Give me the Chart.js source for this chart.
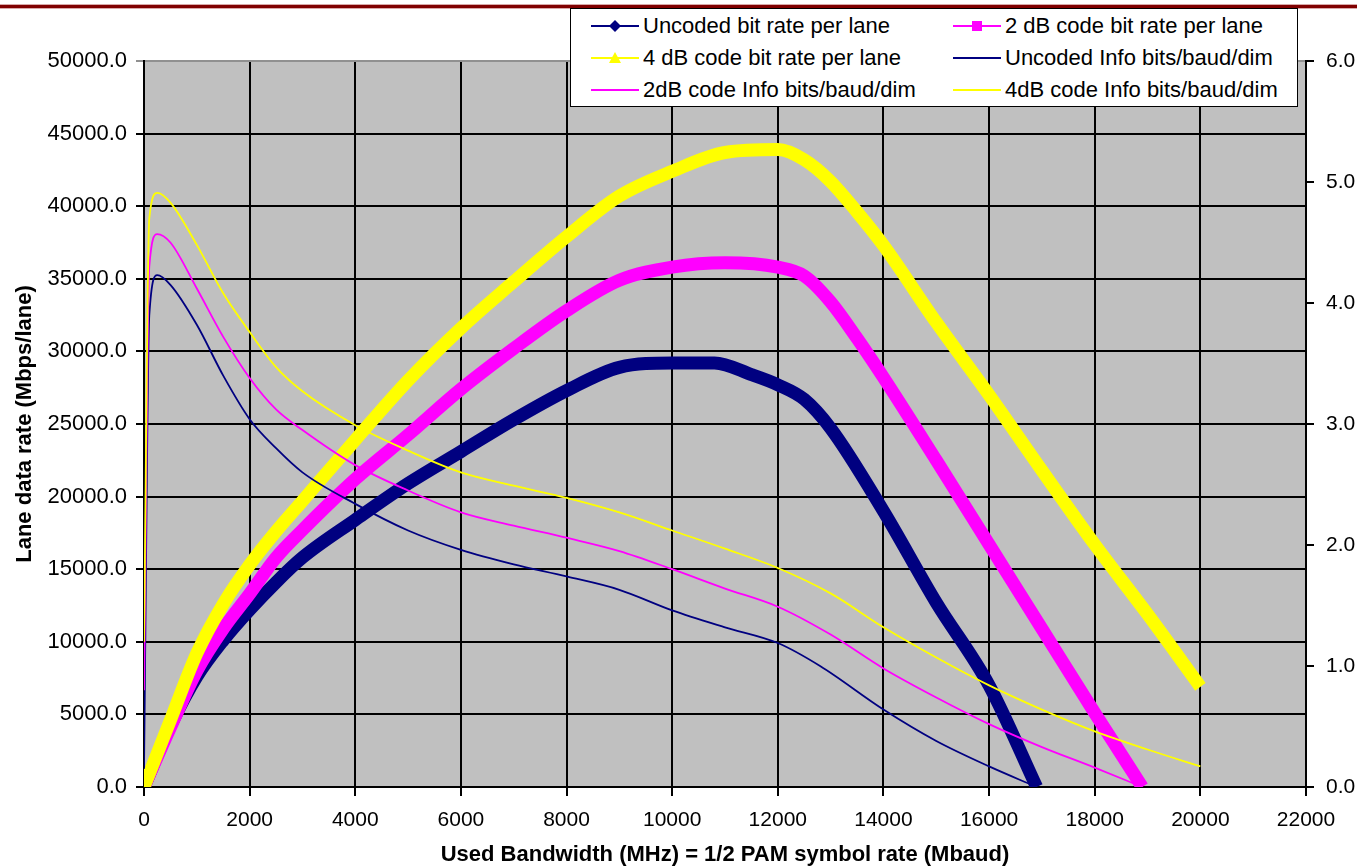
<!DOCTYPE html>
<html>
<head>
<meta charset="utf-8">
<script src="https://cdn.jsdelivr.net/npm/chart.js@4.4.1/dist/chart.umd.min.js"></script>
<style>
  html, body { margin: 0; padding: 0; background: #fff; overflow: hidden; }
  #wrap { position: relative; width: 1357px; height: 868px; font-family: "Liberation Sans", Arial, sans-serif; }
  #lineChart { display: block; }
  #redline { position: absolute; left: 0; top: 4px; width: 1357px; height: 3px; background: #800000;
             border-top: 1px solid #d8a8a8; border-bottom: 1px solid #d8a8a8; }
  #legend { position: absolute; left: 570px; top: 8px; width: 726px; height: 97px; background: #fff;
            border: 1.5px solid #000; }
  .item { position: absolute; display: flex; align-items: center; font-size: 22px; color: #000; white-space: nowrap; height: 24px; }
  .item svg { margin-right: 4px; }
</style>
</head>
<body>
<div id="wrap">
  <canvas id="lineChart" width="1357" height="868"></canvas>
  <div id="redline"></div>
  <div id="legend"></div>
</div>
<script>
// bit rate per lane (left axis, Mbps/lane)
const uncodedRateX = [0, 500, 1000, 1500, 2000, 2500, 3000, 4000, 5000, 6000, 7000, 8000, 9000, 10000, 10800, 11500, 12000, 12500, 13000, 14000, 15000, 16000, 16900];
const uncodedRate  = [0, 4200, 7600, 10100, 12200, 14100, 15800, 18400, 20900, 23100, 25300, 27300, 28900, 29200, 29200, 28400, 27700, 26700, 24700, 19000, 12700, 7000, 0];

const code2RateX = [0, 500, 1000, 1500, 2000, 2500, 3000, 4000, 5000, 6000, 7000, 8000, 9000, 10000, 11000, 12000, 12500, 13000, 13500, 14000, 15000, 16000, 17000, 18000, 18900];
const code2Rate  = [0, 4100, 8000, 10900, 13300, 15800, 17700, 21200, 24250, 27400, 30200, 32800, 34900, 35800, 36100, 35800, 35200, 33400, 30900, 28200, 22500, 16700, 10900, 5100, 0];

const code4RateX = [0, 500, 1000, 1500, 2000, 2500, 3000, 4000, 5000, 6000, 7000, 8000, 9000, 10000, 11000, 12000, 12500, 13000, 13500, 14000, 15000, 16000, 17000, 18000, 19000, 20000];
const code4Rate  = [0, 4600, 9200, 12600, 15300, 17600, 19700, 23900, 28000, 31600, 34800, 37900, 40700, 42400, 43700, 43900, 43200, 41700, 39600, 37300, 32000, 27000, 21800, 16700, 11900, 6900];

// info bits/baud/dim (right axis)
const uncodedInfoX = [0, 100, 250, 500, 1000, 1500, 2000, 2500, 3000, 4000, 5000, 6000, 7000, 8000, 9000, 10000, 11000, 12000, 12800, 14000, 15000, 16000, 16900];
const uncodedInfo  = [0.15, 3.9, 4.23, 4.15, 3.82, 3.40, 3.04, 2.80, 2.60, 2.34, 2.12, 1.96, 1.84, 1.74, 1.63, 1.46, 1.32, 1.19, 1.0, 0.64, 0.38, 0.17, 0];

const code2InfoX = [0, 100, 250, 500, 1000, 1500, 2000, 2500, 3000, 4000, 5000, 6000, 7000, 8000, 9000, 10000, 11000, 12000, 13000, 14000, 15000, 16000, 17000, 18000, 18900];
const code2Info  = [0.8, 4.3, 4.57, 4.5, 4.12, 3.72, 3.38, 3.12, 2.95, 2.66, 2.45, 2.27, 2.16, 2.06, 1.95, 1.80, 1.64, 1.49, 1.26, 0.98, 0.74, 0.52, 0.33, 0.16, 0];

const code4InfoX = [0, 100, 250, 500, 1000, 1500, 2000, 2500, 3000, 4000, 5000, 6000, 7000, 8000, 9000, 10000, 11000, 12000, 13000, 14000, 15000, 16000, 17000, 18000, 19000, 20000];
const code4Info  = [1.2, 4.7, 4.91, 4.83, 4.48, 4.08, 3.76, 3.47, 3.27, 2.99, 2.78, 2.60, 2.49, 2.39, 2.27, 2.12, 1.97, 1.81, 1.60, 1.32, 1.07, 0.84, 0.64, 0.46, 0.31, 0.17];

const labels = [
  "Uncoded bit rate per lane", "2 dB code bit rate per lane",
  "4 dB code bit rate per lane", "Uncoded Info bits/baud/dim",
  "2dB code Info bits/baud/dim", "4dB code Info bits/baud/dim"
];

const NAVY = "#000080", MAGENTA = "#FF00FF", YELLOW = "#FFFF00";
const FONT = "'Liberation Sans', Arial, sans-serif";

function pts(xs, ys) {
  return xs.map((x, i) => ({ x: x, y: ys[i] }));
}

function thick(label, xs, ys, color, order) {
  return { label, data: pts(xs, ys), yAxisID: "y", borderColor: color, backgroundColor: color,
    borderWidth: 13, pointRadius: 0, cubicInterpolationMode: "monotone", order };
}
function thin(label, xs, ys, color, order) {
  return { label, data: pts(xs, ys), yAxisID: "y2", borderColor: color, backgroundColor: color,
    borderWidth: 1.8, pointRadius: 0, cubicInterpolationMode: "monotone", order };
}

const plotBg = {
  id: "plotBg",
  beforeDraw(chart) {
    const { ctx, chartArea: a } = chart;
    ctx.save();
    ctx.fillStyle = "#fff";
    ctx.fillRect(0, 0, chart.width, chart.height);
    ctx.fillStyle = "#C0C0C0";
    ctx.fillRect(a.left, a.top, a.right - a.left, a.bottom - a.top);
    ctx.restore();
  }
};

const ctx = document.getElementById("lineChart").getContext("2d");
new Chart(ctx, {
  type: "line",
  data: {
    datasets: [
      thick(labels[0], uncodedRateX, uncodedRate, NAVY, 6),
      thick(labels[1], code2RateX, code2Rate, MAGENTA, 5),
      thick(labels[2], code4RateX, code4Rate, YELLOW, 4),
      thin(labels[3], uncodedInfoX, uncodedInfo, NAVY, 3),
      thin(labels[4], code2InfoX, code2Info, MAGENTA, 2),
      thin(labels[5], code4InfoX, code4Info, YELLOW, 1),
    ],
  },
  options: {
    responsive: false,
    animation: false,
    devicePixelRatio: 1,
    layout: { padding: { top: 61, left: 0, right: 0, bottom: 0 } },
    plugins: { legend: { display: false }, tooltip: { enabled: false } },
    scales: {
      x: {
        type: "linear", min: 0, max: 22000,
        afterFit: (s) => { s.height = 81; },
        ticks: { stepSize: 2000, color: "#000", font: { family: FONT, size: 21 }, padding: 12, maxRotation: 0,
          callback: (v) => String(v) },
        grid: { color: "#000", lineWidth: 2, tickLength: 9 },
        border: { display: true, color: "#000", width: 2 },
        title: { display: true, text: "Used Bandwidth (MHz) = 1/2 PAM symbol rate (Mbaud)", color: "#000",
          font: { family: FONT, size: 22, weight: "bold" }, padding: { top: 0, bottom: 0 } },
      },
      y: {
        type: "linear", position: "left", min: 0, max: 50000,
        afterFit: (s) => { s.width = 144; },
        ticks: { stepSize: 5000, color: "#000", font: { family: FONT, size: 22 }, padding: 9,
          callback: (v) => v.toFixed(1) },
        grid: { color: (c) => (c.tick && c.tick.value === 50000 ? "#909090" : "#000"), lineWidth: 2, tickLength: 8 },
        border: { display: true, color: "#000", width: 2 },
        title: { display: true, text: "Lane data rate (Mbps/lane)", color: "#000",
          font: { family: FONT, size: 22, weight: "bold" }, padding: { top: 12, bottom: 0 } },
      },
      y2: {
        type: "linear", position: "right", min: 0, max: 6,
        afterFit: (s) => { s.width = 51; },
        ticks: { stepSize: 1, color: "#000", font: { family: FONT, size: 21 }, padding: 12,
          callback: (v) => v.toFixed(1) },
        grid: { drawOnChartArea: false, color: "#000", lineWidth: 2, tickLength: 8 },
        border: { display: true, color: "#000", width: 2 },
      },
    },
  },
  plugins: [plotBg],
});

// legend box drawn over the plot, two columns like the original
const legendEl = document.getElementById("legend");
const legendSpec = [
  { color: NAVY, marker: "diamond", col: 0, row: 0 },
  { color: MAGENTA, marker: "square", col: 1, row: 0 },
  { color: YELLOW, marker: "triangle", col: 0, row: 1 },
  { color: NAVY, marker: null, col: 1, row: 1 },
  { color: MAGENTA, marker: null, col: 0, row: 2 },
  { color: YELLOW, marker: null, col: 1, row: 2 },
];
const colLeft = [20, 382];
const rowTop = [5, 37, 69];
legendSpec.forEach((it, i) => {
  let m = "";
  if (it.marker === "diamond") m = `<polygon points="24,3 30,9 24,15 18,9" fill="${it.color}"/>`;
  if (it.marker === "square") m = `<rect x="19" y="4" width="10" height="10" fill="${it.color}"/>`;
  if (it.marker === "triangle") m = `<polygon points="24,3 30,14 18,14" fill="${it.color}"/>`;
  const div = document.createElement("div");
  div.className = "item";
  div.style.left = colLeft[it.col] + "px";
  div.style.top = rowTop[it.row] + "px";
  div.innerHTML = `<svg width="48" height="18"><line x1="0" y1="9" x2="48" y2="9" stroke="${it.color}" stroke-width="2"/>${m}</svg><span>${labels[i]}</span>`;
  legendEl.appendChild(div);
});
</script>
</body>
</html>
